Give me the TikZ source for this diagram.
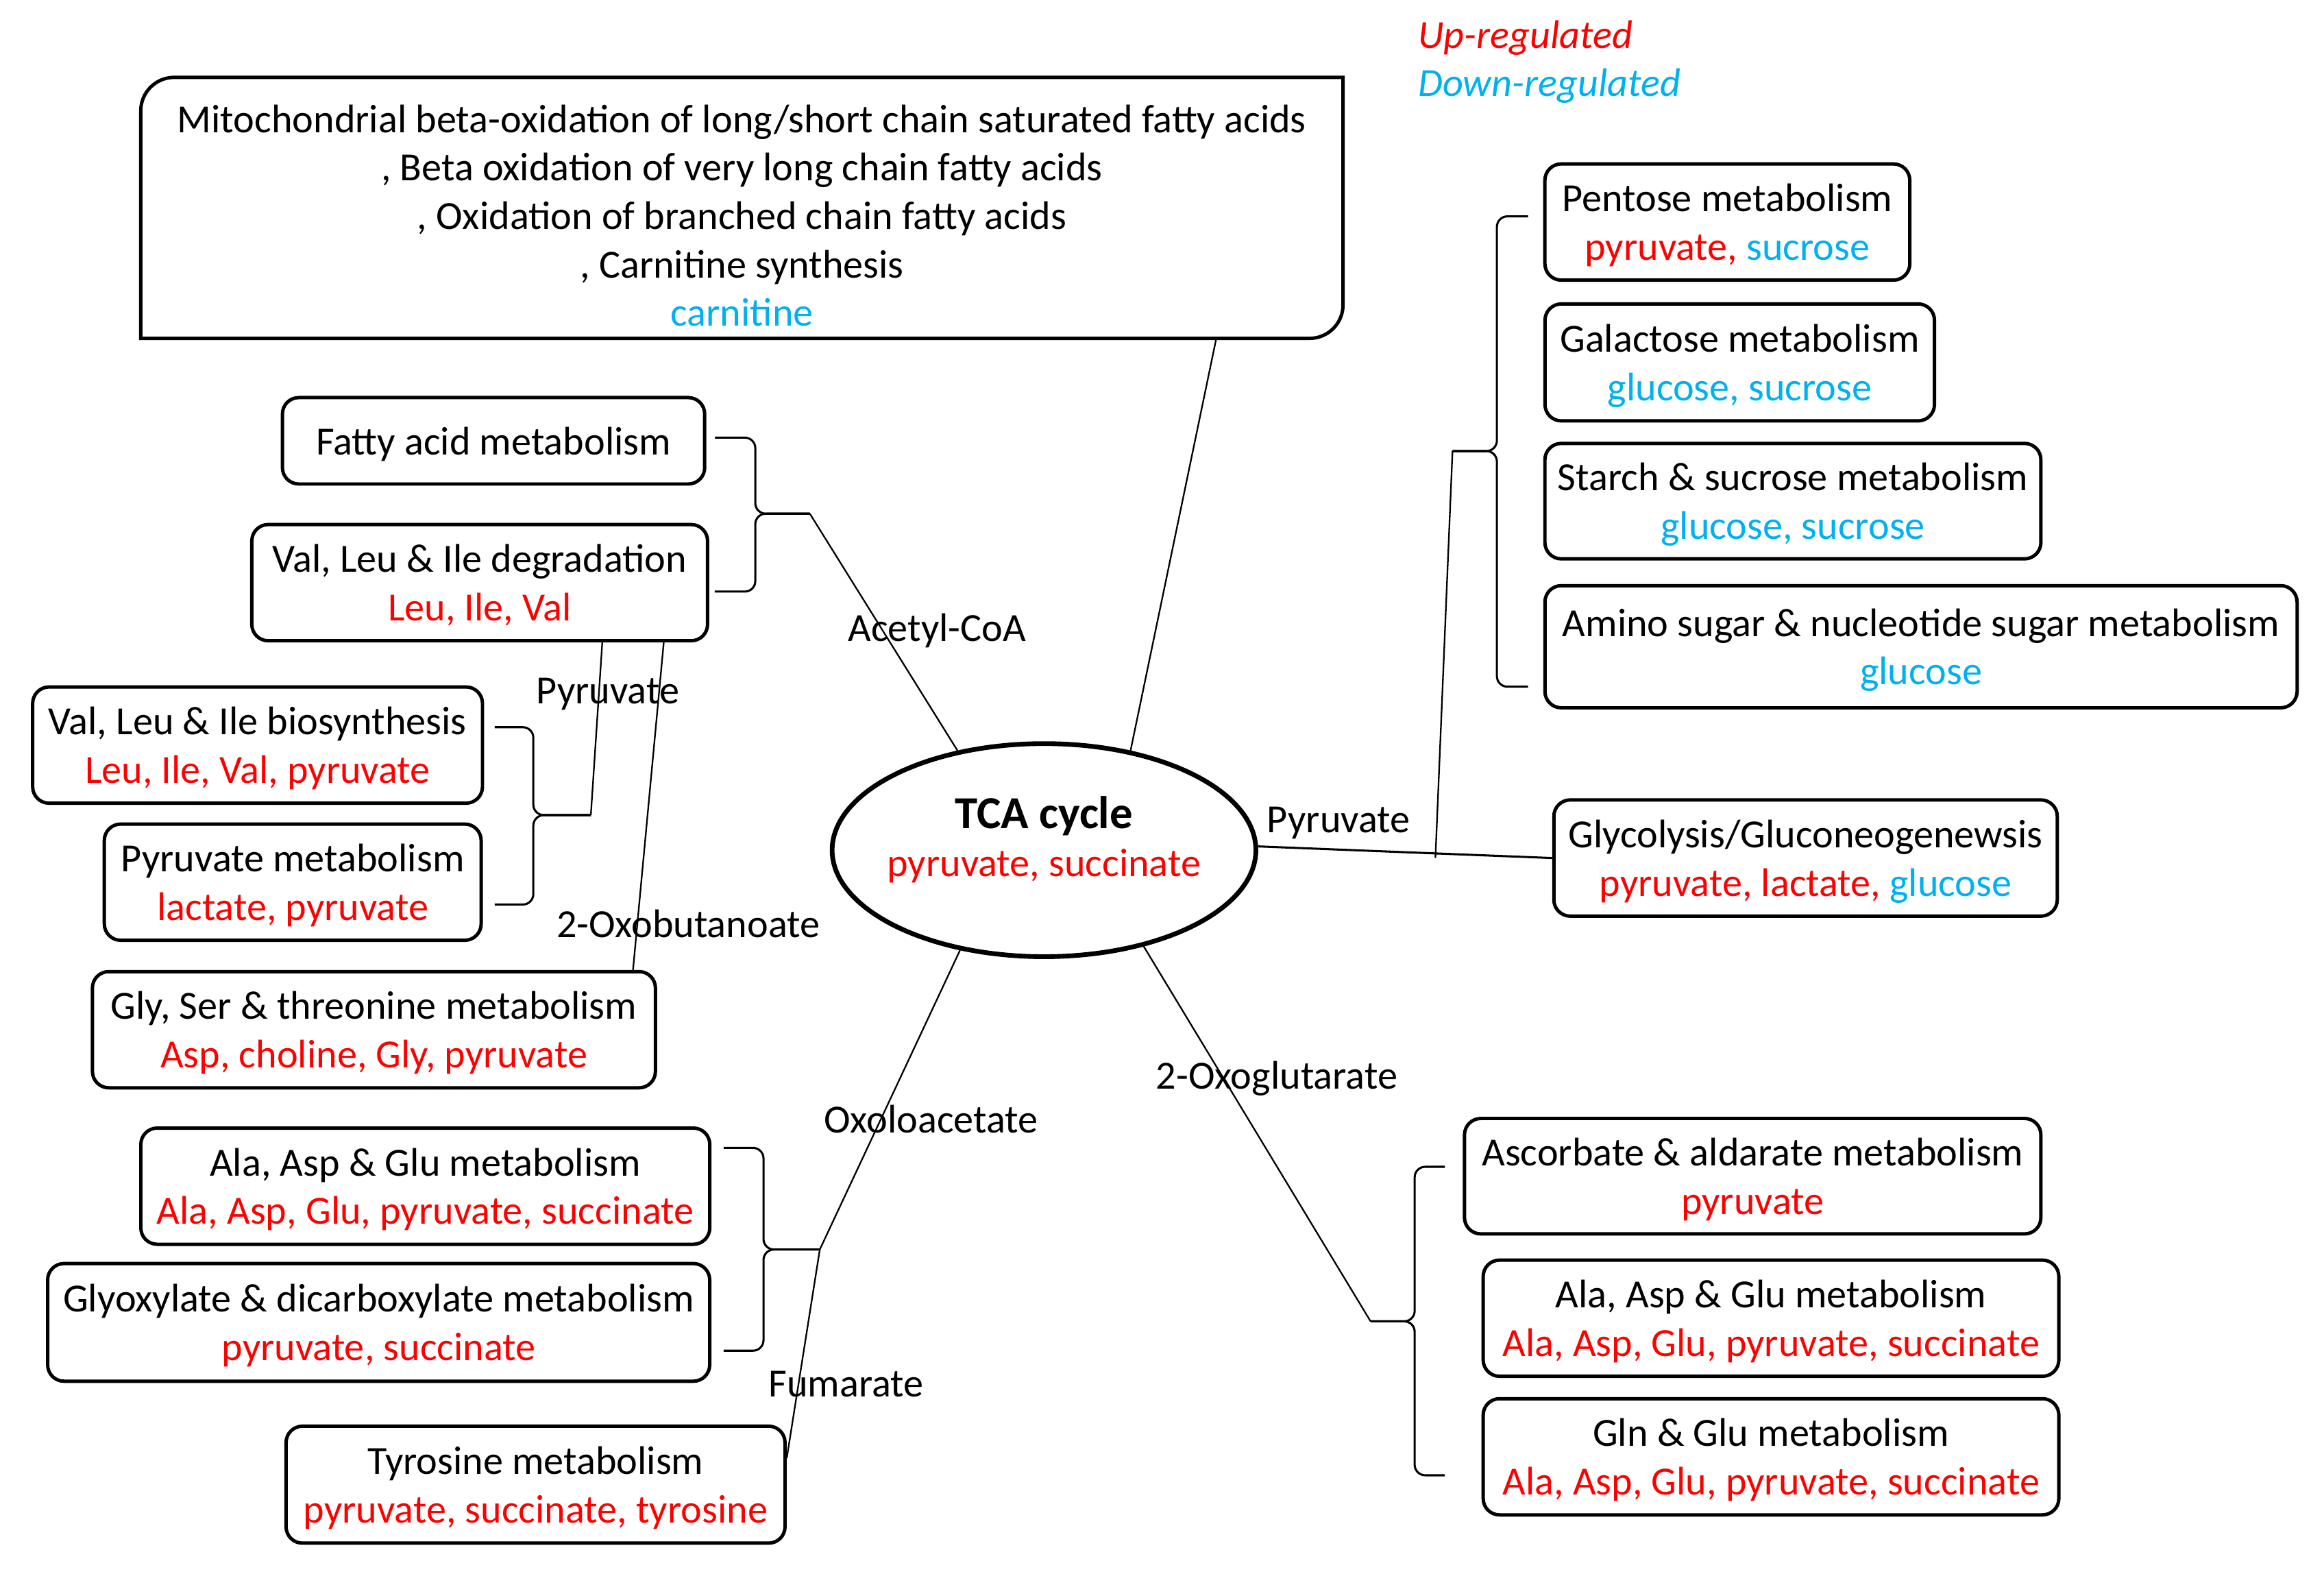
\documentclass[tikz,border=0pt]{standalone}
\usepackage{fontspec}
\setmainfont{Carlito}
\usetikzlibrary{shapes.geometric}
\definecolor{upreg}{RGB}{255,0,0}
\definecolor{downreg}{RGB}{0,176,240}
\newcommand{\incr}[1]{\textcolor{upreg}{#1}}
\newcommand{\decr}[1]{\textcolor{downreg}{#1}}

\begin{document}
\begin{tikzpicture}[x=0.02cm,y=0.02cm,
  every node/.style={font=\fontsize{15.25}{18.5}\selectfont,inner sep=0pt},
  pathway/.style={draw,line width=1.3pt,rounded corners=0.22cm,align=center,text depth=0pt},
  hub/.style={draw,ellipse,line width=1.8pt,align=center,inner xsep=-0.2cm,text depth=0.37cm},
  legend/.style={anchor=west,font=\fontsize{15.25}{18.5}\selectfont\itshape},
  link/.style={line width=0.6pt},
  brk/.style={line width=0.8pt,rounded corners=4pt}]
  \useasboundingbox (0,0) rectangle (1560,1056);

  \node[hub,minimum width=5.69cm,minimum height=2.86cm] (tca) at (700.8,485.5)
    {{\bfseries\fontsize{17.5}{20}\selectfont TCA cycle}\\[0pt]\incr{pyruvate, succinate}};

  \node[align=center,minimum width=16.13cm,minimum height=3.49cm] (beta) at (498,916.5)
    {\rule{0pt}{0.58cm}Mitochondrial beta-oxidation of long/short chain saturated fatty acids\\
     , Beta oxidation of very long chain fatty acids\\
     , Oxidation of branched chain fatty acids\\
     , Carnitine synthesis\\
     \decr{carnitine}};
  \draw[line width=1.3pt] (beta.south west) -- ([yshift=-0.45cm]beta.north west)
    arc[start angle=180,end angle=90,radius=0.45cm] -- (beta.north east)
    -- ([yshift=0.45cm]beta.south east) arc[start angle=0,end angle=-90,radius=0.45cm] -- cycle;

  \node[pathway,minimum width=5.67cm,minimum height=1.16cm] (fatty) at (331.3,760.2) {Fatty acid metabolism};
  \node[pathway,minimum width=6.12cm,minimum height=1.56cm] (degr) at (322,665)
    {Val, Leu \& Ile degradation\\\incr{Leu, Ile, Val}};
  \node[pathway,minimum width=6.04cm,minimum height=1.56cm] (biosyn) at (172.9,556)
    {Val, Leu \& Ile biosynthesis\\\incr{Leu, Ile, Val, pyruvate}};
  \node[pathway,minimum width=5.06cm,minimum height=1.56cm] (pyrmet) at (196.5,464)
    {Pyruvate metabolism\\\incr{lactate, pyruvate}};
  \node[pathway,minimum width=7.56cm,minimum height=1.56cm] (glyser) at (251,365)
    {Gly, Ser \& threonine metabolism\\\incr{Asp, choline, Gly, pyruvate}};
  \node[pathway,minimum width=7.64cm,minimum height=1.56cm] (alaL) at (285.5,260)
    {Ala, Asp \& Glu metabolism\\\incr{Ala, Asp, Glu, pyruvate, succinate}};
  \node[pathway,minimum width=8.89cm,minimum height=1.58cm] (glyox) at (254.2,168.6)
    {Glyoxylate \& dicarboxylate metabolism\\\incr{pyruvate, succinate}};
  \node[pathway,minimum width=6.70cm,minimum height=1.57cm] (tyr) at (359.5,59.7)
    {Tyrosine metabolism\\\incr{pyruvate, succinate, tyrosine}};

  \node[pathway,minimum width=4.90cm,minimum height=1.56cm] (pentose) at (1159.5,907)
    {Pentose metabolism\\\incr{pyruvate,} \decr{sucrose}};
  \node[pathway,minimum width=5.23cm,minimum height=1.57cm] (galac) at (1167.8,812.8)
    {Galactose metabolism\\\decr{glucose, sucrose}};
  \node[pathway,minimum width=6.66cm,minimum height=1.55cm] (starch) at (1203.5,719.7)
    {Starch \& sucrose metabolism\\\decr{glucose, sucrose}};
  \node[pathway,minimum width=10.10cm,minimum height=1.64cm] (amino) at (1289.5,622)
    {Amino sugar \& nucleotide sugar metabolism\\\decr{glucose}};
  \node[pathway,minimum width=6.76cm,minimum height=1.56cm] (glyco) at (1212,480.2)
    {Glycolysis/Gluconeogenewsis\\\incr{pyruvate, lactate,} \decr{glucose}};
  \node[pathway,minimum width=7.74cm,minimum height=1.55cm] (ascorb) at (1176.5,266.7)
    {Ascorbate \& aldarate metabolism\\\incr{pyruvate}};
  \node[pathway,minimum width=7.73cm,minimum height=1.56cm] (alaR) at (1188.8,171.4)
    {Ala, Asp \& Glu metabolism\\\incr{Ala, Asp, Glu, pyruvate, succinate}};
  \node[pathway,minimum width=7.73cm,minimum height=1.56cm] (gln) at (1188.8,78.4)
    {Gln \& Glu metabolism\\\incr{Ala, Asp, Glu, pyruvate, succinate}};

  \node[legend,upreg] (lup) at (951.7,1030.5) {Up-regulated};
  \node[legend,downreg] (ldown) at (951.7,998.5) {Down-regulated};

  \node (lacetyl) at (629,633) {Acetyl-CoA};
  \node (lpyrL) at (408,590) {Pyruvate};
  \node (loxob) at (462,436) {2-Oxobutanoate};
  \node (lpyrR) at (898.5,503.5) {Pyruvate};
  \node (loxal) at (625,305) {Oxoloacetate};
  \node (loxog) at (857,332) {2-Oxoglutarate};
  \node (lfum) at (568,127) {Fumarate};

  \coordinate (accoa) at (543.6,711.3);
  \coordinate (accoa-m) at (507,711.3);
  \coordinate (pyrL) at (396.6,509);
  \coordinate (pyrL-m) at (358,509);
  \coordinate (oxal) at (550.3,217.5);
  \coordinate (oxal-m) at (512.5,217.5);
  \coordinate (sugar) at (975,753.3);
  \coordinate (sugar-m) at (1004.8,753.3);
  \coordinate (oxog) at (920,169.3);
  \coordinate (oxog-m) at (949.6,169.3);

  \draw[brk] ([shift={(5.7,2.1)}]fatty.east) -| (accoa-m) -- (accoa);
  \draw[brk] ([shift={(3.7,-6)}]degr.east) -| (accoa-m) -- (accoa);
  \draw[brk] ([shift={(7.1,12)}]biosyn.east) -| (pyrL-m) -- (pyrL);
  \draw[brk] ([shift={(8,-15)}]pyrmet.east) -| (pyrL-m) -- (pyrL);
  \draw[brk] ([shift={(8.1,25.7)}]alaL.east) -| (oxal-m) -- (oxal);
  \draw[brk] ([shift={(8.2,-19)}]glyox.east) -| (oxal-m) -- (oxal);
  \draw[brk] ([shift={(-10.2,3.8)}]pentose.west) -| (sugar-m) -- (sugar);
  \draw[brk] ([shift={(-10.2,-26.8)}]amino.west) -| (sugar-m) -- (sugar);
  \draw[brk] ([shift={(-12,6.3)}]ascorb.west) -| (oxog-m) -- (oxog);
  \draw[brk] ([shift={(-24.6,-12.4)}]gln.west) -| (oxog-m) -- (oxog);

  \draw[link] ([xshift=6.37cm]beta.south) -- (tca.49);
  \draw[link] (accoa) -- (tca.131);
  \draw[link] (degr.-26.4) -- (pyrL);
  \draw[link] (degr.-18.4) -- (glyser.13);
  \draw[link,line width=0.8pt] (tca.1) -- coordinate[pos=0.603] (pj) (glyco.west);
  \draw[link] (sugar) -- ([yshift=-0.06cm]pj);
  \draw[link] (tca.-130) -- (oxal);
  \draw[link] (oxal) -- (tyr.6.6);
  \draw[link] (tca.-44) -- (oxog);
\end{tikzpicture}
\end{document}
